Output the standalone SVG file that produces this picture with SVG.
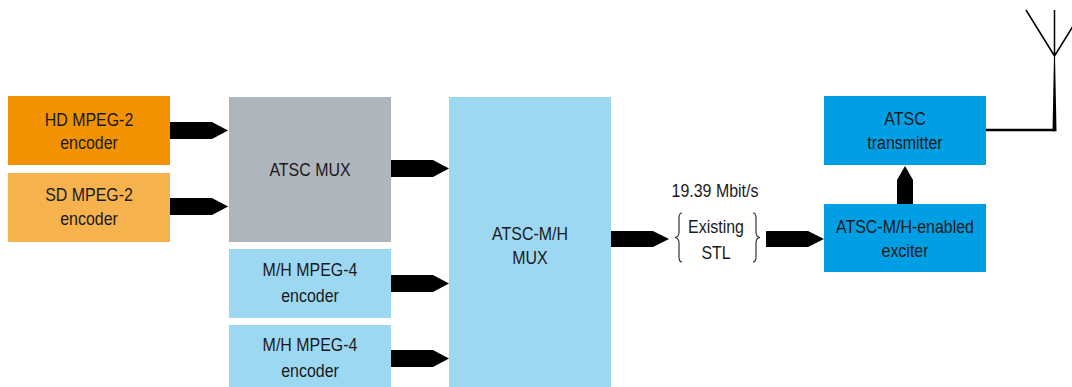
<svg xmlns="http://www.w3.org/2000/svg" width="1072" height="387" viewBox="0 0 1072 387">
<style>
text{font-family:"Liberation Sans",Arial,sans-serif;font-size:19px;fill:#1a1a1a;text-anchor:middle}
.arr{fill:#000}
.brace{fill:none;stroke:#333;stroke-width:1.2}
</style>
<rect width="1072" height="387" fill="#fff"/>
<g id="hd-encoder"><rect x="8" y="96" width="162" height="69" fill="#F39200"/><text transform="translate(89,126) scale(0.84,1)">HD MPEG-2</text><text transform="translate(89,149) scale(0.84,1)">encoder</text></g>
<g id="sd-encoder"><rect x="8" y="173" width="162" height="69" fill="#F6B24D"/><text transform="translate(89,201) scale(0.84,1)">SD MPEG-2</text><text transform="translate(89,225) scale(0.84,1)">encoder</text></g>
<g id="atsc-mux"><rect x="229" y="97" width="162" height="145" fill="#AEB5BC"/><text transform="translate(310,176) scale(0.84,1)">ATSC MUX</text></g>
<g id="mh-encoder-1"><rect x="229" y="249" width="162" height="69" fill="#9DD8F3"/><text transform="translate(310,276) scale(0.84,1)">M/H MPEG-4</text><text transform="translate(310,302) scale(0.84,1)">encoder</text></g>
<g id="mh-encoder-2"><rect x="229" y="325" width="162" height="69" fill="#9DD8F3"/><text transform="translate(310,351) scale(0.84,1)">M/H MPEG-4</text><text transform="translate(310,377) scale(0.84,1)">encoder</text></g>
<g id="atsc-mh-mux"><rect x="449" y="97" width="162" height="297" fill="#9DD8F3"/><text transform="translate(530,240) scale(0.84,1)">ATSC-M/H</text><text transform="translate(530,264) scale(0.84,1)">MUX</text></g>
<g id="stl"><text transform="translate(715,197) scale(0.84,1)">19.39 Mbit/s</text><text transform="translate(716,233) scale(0.84,1)">Existing</text><text transform="translate(716,259) scale(0.84,1)">STL</text>
<path class="brace" d="M682,213 Q679,213 679,218 L679,232 Q679,237 675,237.5 Q679,238 679,243 L679,257 Q679,262 682,262"/>
<path class="brace" d="M753,213 Q756,213 756,218 L756,232 Q756,237 760,237.5 Q756,238 756,243 L756,257 Q756,262 753,262"/></g>
<g id="exciter"><rect x="824" y="204" width="162" height="68" fill="#009FE3"/><text transform="translate(905,233) scale(0.84,1)">ATSC-M/H-enabled</text><text transform="translate(905,257) scale(0.84,1)">exciter</text></g>
<g id="transmitter"><rect x="824" y="96" width="162" height="69" fill="#009FE3"/><text transform="translate(905,125) scale(0.84,1)">ATSC</text><text transform="translate(905,149) scale(0.84,1)">transmitter</text></g>
<g id="antenna">
<path d="M986,130 L1055,130" stroke="#000" stroke-width="2.5" fill="none"/>
<path d="M1052.5,131.2 L1056.5,131.2 L1055,55 L1054,55 Z" fill="#000"/>
<path d="M1026,10 L1054.5,56 L1083,10 M1054.5,56 L1054.5,10" stroke="#000" stroke-width="1.5" fill="none"/>
</g>
<g id="connectors">
<path class="arr" d="M170,122 L212,122 L228,130.5 L212,139 L170,139 Z"/>
<path class="arr" d="M170,198 L212,198 L228,206.5 L212,215 L170,215 Z"/>
<path class="arr" d="M391,160 L433,160 L449,168.5 L433,177 L391,177 Z"/>
<path class="arr" d="M391,275 L433,275 L449,283.5 L433,292 L391,292 Z"/>
<path class="arr" d="M391,350 L433,350 L449,358.5 L433,367 L391,367 Z"/>
<path class="arr" d="M611,231 L653,231 L669,239 L653,247 L611,247 Z"/>
<path class="arr" d="M766,231 L808,231 L824,239 L808,247 L766,247 Z"/>
<path class="arr" d="M897,204 L897,180 L905,166 L913,180 L913,204 Z"/>
</g>
</svg>
